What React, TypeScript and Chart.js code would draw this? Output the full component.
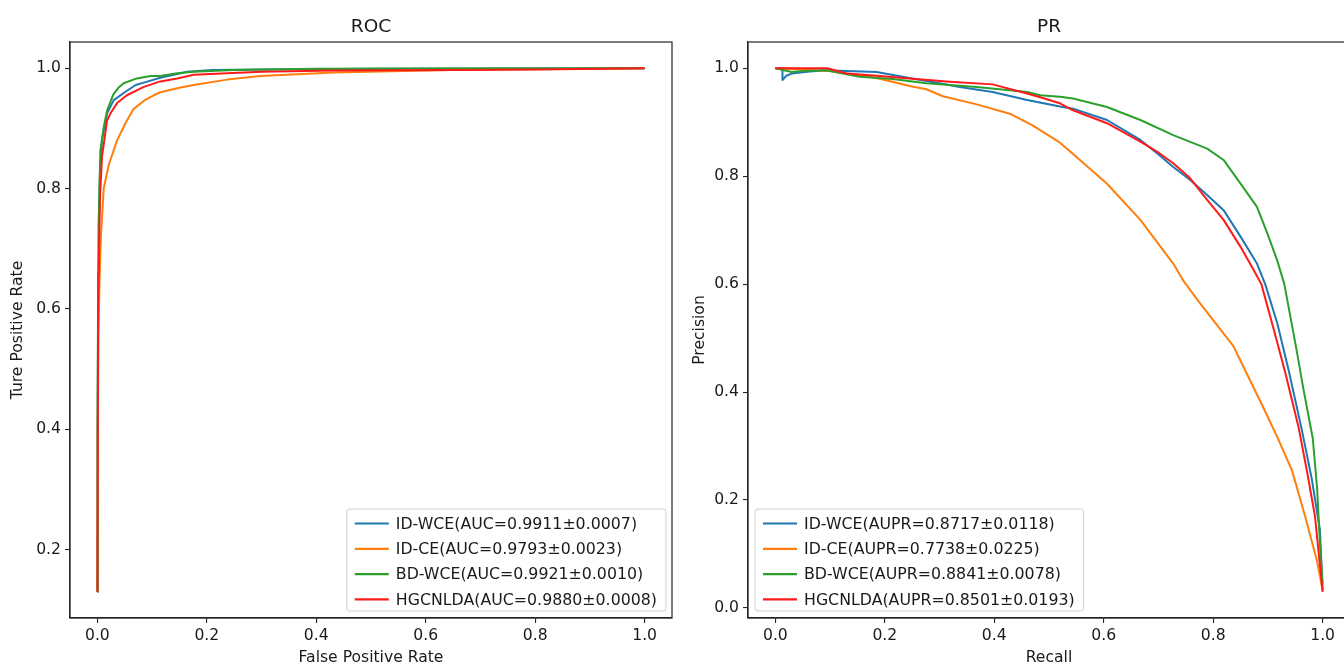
import React, { useEffect, useRef } from 'react';
import { Chart, registerables } from 'chart.js';

Chart.register(...registerables);

// ---------- data ----------
const rocLabels = [
  'ID-WCE(AUC=0.9911±0.0007)',
  'ID-CE(AUC=0.9793±0.0023)',
  'BD-WCE(AUC=0.9921±0.0010)',
  'HGCNLDA(AUC=0.9880±0.0008)',
];
const prLabels = [
  'ID-WCE(AUPR=0.8717±0.0118)',
  'ID-CE(AUPR=0.7738±0.0225)',
  'BD-WCE(AUPR=0.8841±0.0078)',
  'HGCNLDA(AUPR=0.8501±0.0193)',
];
const seriesColors = ['#1f77b4', '#ff7f0e', '#2ca02c', '#ff1a1a'];

// ROC: [false positive rate, true positive rate]
const rocIdWce: number[][] = [
  [0, 0.13], [0.0005, 0.4], [0.0015, 0.62], [0.003, 0.76], [0.005, 0.83], [0.0085, 0.88],
  [0.0177, 0.925], [0.03, 0.947], [0.05, 0.96], [0.07, 0.972], [0.085, 0.976], [0.115, 0.984],
  [0.164, 0.994], [0.21, 0.997], [0.3, 0.998], [0.5, 0.999], [0.7, 0.9995], [1, 1],
];
const rocIdCe: number[][] = [
  [0, 0.13], [0.0008, 0.4], [0.002, 0.56], [0.004, 0.65], [0.0065, 0.72], [0.0116, 0.8],
  [0.021, 0.84], [0.036, 0.88], [0.051, 0.908], [0.066, 0.932], [0.085, 0.946], [0.103, 0.955],
  [0.115, 0.96], [0.152, 0.968], [0.176, 0.972], [0.237, 0.981], [0.298, 0.987], [0.432, 0.993],
  [0.645, 0.997], [1, 1],
];
const rocBdWce: number[][] = [
  [0, 0.13], [0.0005, 0.45], [0.0015, 0.66], [0.0024, 0.74], [0.004, 0.81], [0.0055, 0.863],
  [0.0116, 0.902], [0.018, 0.93], [0.029, 0.956], [0.038, 0.967], [0.048, 0.975], [0.072, 0.983],
  [0.097, 0.987], [0.115, 0.987], [0.146, 0.9915], [0.176, 0.994], [0.25, 0.997], [0.4, 0.999],
  [0.6, 0.9995], [1, 1],
];
const rocHgcnlda: number[][] = [
  [0, 0.13], [0.0015, 0.6], [0.003, 0.7], [0.005, 0.79], [0.0085, 0.853], [0.0177, 0.913],
  [0.024, 0.925], [0.036, 0.942], [0.054, 0.955], [0.085, 0.969], [0.115, 0.978], [0.146, 0.983],
  [0.176, 0.989], [0.237, 0.9915], [0.3, 0.994], [0.43, 0.996], [0.65, 0.997], [0.8, 0.998], [1, 1],
];

// PR: [recall, precision]
const prIdWce: number[][] = [
  [0, 1], [0.013, 1], [0.013, 0.978], [0.02, 0.986], [0.03, 0.99], [0.062, 0.994], [0.093, 0.996],
  [0.13, 0.995], [0.185, 0.993], [0.245, 0.982], [0.3, 0.972], [0.337, 0.965], [0.397, 0.956],
  [0.46, 0.941], [0.52, 0.929], [0.544, 0.925], [0.606, 0.904], [0.667, 0.867], [0.698, 0.842],
  [0.727, 0.817], [0.758, 0.793], [0.789, 0.765], [0.819, 0.737], [0.85, 0.688], [0.88, 0.638],
  [0.895, 0.6], [0.917, 0.528], [0.938, 0.44], [0.962, 0.33], [0.98, 0.24], [0.995, 0.145], [1, 0.033],
];
const prIdCe: number[][] = [
  [0, 1], [0.06, 0.997], [0.095, 0.995], [0.13, 0.99], [0.17, 0.985], [0.214, 0.975], [0.245, 0.967],
  [0.276, 0.961], [0.306, 0.948], [0.368, 0.933], [0.43, 0.915], [0.47, 0.894], [0.52, 0.862],
  [0.544, 0.841], [0.606, 0.786], [0.667, 0.719], [0.727, 0.638], [0.745, 0.607], [0.774, 0.567],
  [0.837, 0.485], [0.889, 0.377], [0.917, 0.317], [0.944, 0.255], [0.968, 0.17], [0.99, 0.086],
  [1, 0.033],
];
const prBdWce: number[][] = [
  [0, 1], [0.03, 0.993], [0.05, 0.995], [0.093, 0.996], [0.154, 0.984], [0.214, 0.98], [0.276, 0.972],
  [0.368, 0.965], [0.46, 0.956], [0.484, 0.95], [0.52, 0.947], [0.544, 0.944], [0.606, 0.928],
  [0.667, 0.904], [0.727, 0.876], [0.789, 0.851], [0.819, 0.83], [0.85, 0.786], [0.88, 0.743],
  [0.899, 0.694], [0.917, 0.644], [0.93, 0.6], [0.952, 0.48], [0.965, 0.405], [0.982, 0.314],
  [0.99, 0.22], [0.995, 0.12], [1, 0.045],
];
const prHgcnlda: number[][] = [
  [0, 1], [0.095, 1], [0.13, 0.99], [0.185, 0.986], [0.245, 0.981], [0.319, 0.975], [0.397, 0.97],
  [0.46, 0.953], [0.484, 0.946], [0.52, 0.935], [0.544, 0.922], [0.606, 0.898], [0.667, 0.864],
  [0.698, 0.845], [0.727, 0.824], [0.758, 0.796], [0.789, 0.756], [0.819, 0.719], [0.85, 0.669],
  [0.874, 0.626], [0.888, 0.6], [0.911, 0.515], [0.932, 0.435], [0.956, 0.335], [0.972, 0.25],
  [0.986, 0.17], [1, 0.03],
];

const rocXTicks = [0, 0.2, 0.4, 0.6, 0.8, 1.0];
const rocYTicks = [0.2, 0.4, 0.6, 0.8, 1.0];
const prXTicks = [0, 0.2, 0.4, 0.6, 0.8, 1.0];
const prYTicks = [0, 0.2, 0.4, 0.6, 0.8, 1.0];

// ---------- styling ----------
const FONT = '"DejaVu Sans", sans-serif';
const TEXT = '#1a1a1a';
const AXIS = '#262626';

const framePlugin = {
  id: 'frame',
  afterDatasetsDraw(chart: any) {
    const { ctx, chartArea: a } = chart;
    ctx.save();
    ctx.strokeStyle = AXIS;
    ctx.lineWidth = 1.2;
    ctx.strokeRect(a.left, a.top, a.right - a.left, a.bottom - a.top);
    ctx.restore();
  },
};

const titlePlugin = {
  id: 'mplTitle',
  afterDraw(chart: any, _args: any, opts: any) {
    const { ctx, chartArea: a } = chart;
    ctx.save();
    ctx.font = `18.5px ${FONT}`;
    ctx.fillStyle = TEXT;
    ctx.textAlign = 'center';
    ctx.textBaseline = 'middle';
    ctx.fillText(opts.text, (a.left + a.right) / 2, 27);
    ctx.restore();
  },
};

const legendPlugin = {
  id: 'mplLegend',
  afterDraw(chart: any, _args: any, opts: any) {
    const { ctx, chartArea: a } = chart;
    const fontSize = 15.8;
    ctx.save();
    ctx.font = `${fontSize}px ${FONT}`;
    const items = chart.data.datasets.map((d: any) => ({ label: d.label, color: d.borderColor }));
    const textW = Math.max(...items.map((i: any) => ctx.measureText(i.label).width));
    const padL = 8, handle = 34, gap = 7, padR = 9;
    const boxW = padL + handle + gap + textW + padR;
    const rowH = 25.3;
    const boxH = 102;
    const bx = opts.align === 'right' ? a.right - 6 - boxW : a.left + 7;
    const by = a.bottom - 7 - boxH;
    ctx.beginPath();
    if ((ctx as any).roundRect) (ctx as any).roundRect(bx, by, boxW, boxH, 3);
    else ctx.rect(bx, by, boxW, boxH);
    ctx.fillStyle = 'rgba(255,255,255,0.85)';
    ctx.fill();
    ctx.strokeStyle = '#d0d0d0';
    ctx.lineWidth = 1;
    ctx.stroke();
    items.forEach((it: any, i: number) => {
      const cy = by + 14.5 + i * rowH;
      ctx.beginPath();
      ctx.strokeStyle = it.color;
      ctx.lineWidth = 2.2;
      ctx.moveTo(bx + padL, cy);
      ctx.lineTo(bx + padL + handle, cy);
      ctx.stroke();
      ctx.fillStyle = TEXT;
      ctx.textBaseline = 'middle';
      ctx.textAlign = 'left';
      ctx.fillText(it.label, bx + padL + handle + gap, cy + 1);
    });
    ctx.restore();
  },
};

type Panel = {
  title: string;
  xTitle: string;
  yTitle: string;
  labels: string[];
  series: number[][][];
  xTicks: number[];
  yTicks: number[];
  yMin: number;
  yMax: number;
  yAxisWidth: number;
  yTitlePad: number;
  padRight: number;
  legendAlign: 'left' | 'right';
};

function buildConfig(p: Panel): any {
  const tickFont = { family: FONT, size: 15.6 };
  return {
    type: 'line',
    data: {
      datasets: p.series.map((pts, i) => ({
        label: p.labels[i],
        data: pts.map(([x, y]) => ({ x, y })),
        borderColor: seriesColors[i],
        backgroundColor: seriesColors[i],
        borderWidth: 2,
        borderJoinStyle: 'round',
        pointRadius: 0,
        tension: 0,
        fill: false,
        order: p.series.length - i,
      })),
    },
    options: {
      responsive: false,
      maintainAspectRatio: false,
      animation: false,
      devicePixelRatio: 1,
      events: [],
      layout: { padding: { left: 0, right: p.padRight, top: 42, bottom: 0 } },
      plugins: {
        legend: { display: false },
        tooltip: { enabled: false },
        title: { display: false },
        mplTitle: { text: p.title },
        mplLegend: { align: p.legendAlign },
      },
      scales: {
        x: {
          type: 'linear',
          min: -0.05,
          max: 1.05,
          afterBuildTicks: (axis: any) => {
            axis.ticks = p.xTicks.map((v) => ({ value: v }));
          },
          afterFit: (s: any) => {
            s.height = 50;
          },
          ticks: {
            callback: (v: any) => Number(v).toFixed(1),
            font: tickFont,
            color: TEXT,
            padding: 4,
            maxRotation: 0,
            autoSkip: false,
          },
          grid: { display: true, drawOnChartArea: false, drawTicks: true, tickLength: 5, color: AXIS, lineWidth: 1.1 },
          border: { display: true, color: AXIS, width: 1.2 },
          title: { display: true, text: p.xTitle, color: TEXT, font: tickFont, padding: { top: 0, bottom: 1 } },
        },
        y: {
          type: 'linear',
          min: p.yMin,
          max: p.yMax,
          afterBuildTicks: (axis: any) => {
            axis.ticks = p.yTicks.map((v) => ({ value: v }));
          },
          afterFit: (s: any) => {
            s.width = p.yAxisWidth;
          },
          ticks: {
            callback: (v: any) => Number(v).toFixed(1),
            font: tickFont,
            color: TEXT,
            padding: 4,
            autoSkip: false,
          },
          grid: { display: true, drawOnChartArea: false, drawTicks: true, tickLength: 5, color: AXIS, lineWidth: 1.1 },
          border: { display: true, color: AXIS, width: 1.2 },
          title: { display: true, text: p.yTitle, color: TEXT, font: tickFont, padding: { top: p.yTitlePad, bottom: 0 } },
        },
      },
    },
    plugins: [framePlugin, titlePlugin, legendPlugin],
  };
}

const rocPanel: Panel = {
  title: 'ROC',
  xTitle: 'False Positive Rate',
  yTitle: 'Ture Positive Rate',
  labels: rocLabels,
  series: [rocIdWce, rocIdCe, rocBdWce, rocHgcnlda],
  xTicks: rocXTicks,
  yTicks: rocYTicks,
  yMin: 0.0865,
  yMax: 1.0435,
  yAxisWidth: 70,
  yTitlePad: 9,
  padRight: 8,
  legendAlign: 'right',
};

const prPanel: Panel = {
  title: 'PR',
  xTitle: 'Recall',
  yTitle: 'Precision',
  labels: prLabels,
  series: [prIdWce, prIdCe, prBdWce, prHgcnlda],
  xTicks: prXTicks,
  yTicks: prYTicks,
  yMin: -0.0185,
  yMax: 1.0485,
  yAxisWidth: 68,
  yTitlePad: 11,
  padRight: 10,
  legendAlign: 'left',
};

function ChartPanel({ panel, left }: { panel: Panel; left: number }) {
  const ref = useRef<HTMLCanvasElement | null>(null);
  useEffect(() => {
    if (!ref.current) return;
    const chart = new Chart(ref.current, buildConfig(panel));
    return () => chart.destroy();
  }, [panel]);
  return (
    <div style={{ position: 'absolute', left, top: 0, width: 680, height: 668 }}>
      <canvas ref={ref} width={680} height={668} style={{ display: 'block', width: 680, height: 668 }} />
    </div>
  );
}

export default function App() {
  return (
    <div
      style={{
        position: 'fixed',
        left: 0,
        top: 0,
        width: 1344,
        height: 668,
        overflow: 'hidden',
        background: '#ffffff',
      }}
    >
      <ChartPanel panel={rocPanel} left={0} />
      <ChartPanel panel={prPanel} left={680} />
    </div>
  );
}
